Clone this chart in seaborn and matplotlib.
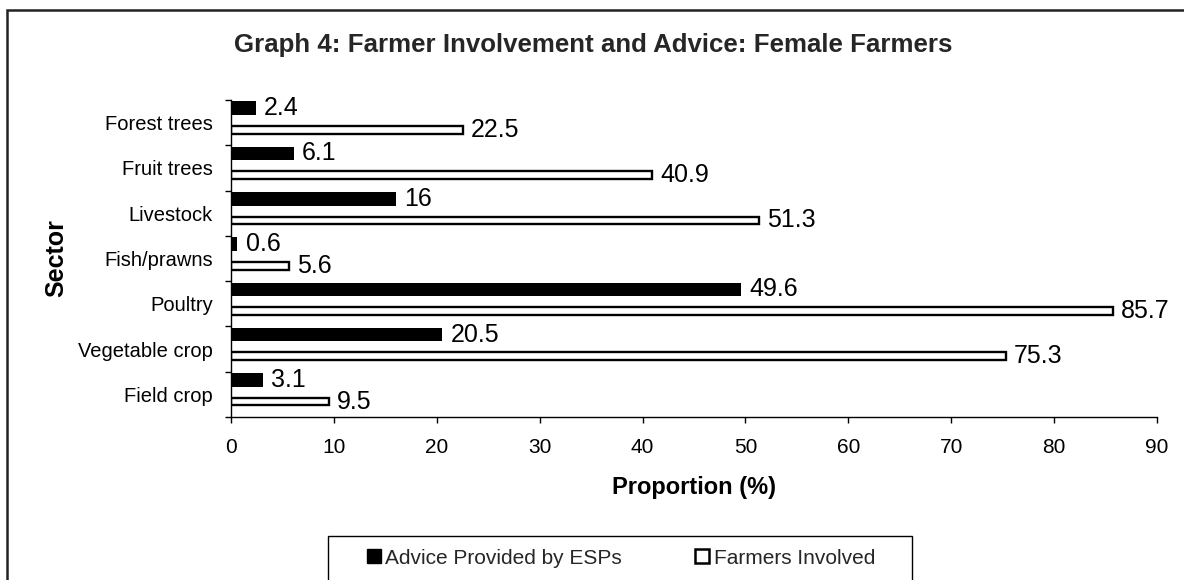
import matplotlib
matplotlib.use("Agg")
import matplotlib.pyplot as plt
import seaborn as sns
import pandas as pd
import numpy as np
from matplotlib.lines import Line2D
from matplotlib.patches import Rectangle

sectors = ["Forest trees", "Fruit trees", "Livestock", "Fish/prawns",
           "Poultry", "Vegetable crop", "Field crop"]
advice = [2.4, 6.1, 16, 0.6, 49.6, 20.5, 3.1]
involved = [22.5, 40.9, 51.3, 5.6, 85.7, 75.3, 9.5]
series_names = ["Advice Provided by ESPs", "Farmers Involved"]
x_ticks = [0, 10, 20, 30, 40, 50, 60, 70, 80, 90]

df = pd.DataFrame({
    "Sector": sectors * 2,
    "Series": [series_names[0]] * len(sectors) + [series_names[1]] * len(sectors),
    "Value": advice + involved,
})

sns.set_theme(style="white")
plt.rcParams["font.family"] = ["Liberation Sans", "DejaVu Sans"]

W, H = 1184, 580
fig = plt.figure(figsize=(W / 100, H / 100), dpi=100)
ax = fig.add_axes([231 / W, 1 - 417 / H, (1157 - 231) / W, (417 - 100) / H])

sns.barplot(data=df, y="Sector", x="Value", hue="Series", order=sectors,
            hue_order=series_names, palette=["black", "white"], orient="h",
            edgecolor="black", linewidth=1.4, ax=ax, legend=False, width=0.8)

# restyle bar geometry (Excel-like: thick black bar above, thin outlined bar below)
geom = {0: (-0.32, 0.30, 0.0), 1: (0.16, 0.17, 1.7)}
for ci, cont in enumerate(ax.containers):
    off, h, lw = geom[ci]
    for bar in cont:
        c = int(round(bar.get_y() + bar.get_height() / 2))
        bar.set_y(c + off - h / 2)
        bar.set_height(h)
        bar.set_linewidth(lw)
    vals = advice if ci == 0 else involved
    ax.bar_label(cont, labels=[f"{v:g}" for v in vals], padding=6,
                 fontsize=18, color="black")

ax.set_xlim(0, 90)
ax.set_ylim(6.5, -0.5)
ax.set_xticks(x_ticks)
ax.set_xticklabels([str(t) for t in x_ticks], fontsize=15)
ax.set_yticks(range(len(sectors)))
ax.set_yticklabels(sectors, fontsize=14.5)
ax.set_yticks(np.arange(-0.5, len(sectors), 1.0), minor=True)
ax.tick_params(axis="y", which="major", length=0, pad=13, colors="black")
ax.tick_params(axis="y", which="minor", length=4, width=1, direction="out",
               color="black", left=True)
ax.tick_params(axis="x", which="major", length=4, width=1, direction="out",
               pad=11, colors="black", bottom=True)

for s in ["top", "right"]:
    ax.spines[s].set_visible(False)
for s in ["left", "bottom"]:
    ax.spines[s].set_visible(True)
    ax.spines[s].set_color("black")
    ax.spines[s].set_linewidth(1.0)
ax.grid(False)

ax.set_xlabel("Proportion (%)", fontsize=17, fontweight="bold", color="black")
ax.xaxis.set_label_coords(0.5, (417 - 476) / 317)
ax.set_ylabel("Sector", fontsize=18, fontweight="bold", color="black")
ax.yaxis.set_label_coords((68 - 231) / 926, 0.5)

fig.text(0.501, 1 - 45 / H, "Graph 4: Farmer Involvement and Advice: Female Farmers",
         ha="center", va="center", fontsize=18.6, fontweight="bold")

handles = [
    Line2D([], [], marker="s", linestyle="none", markersize=10.5,
           markerfacecolor="black", markeredgecolor="black"),
    Line2D([], [], marker="s", linestyle="none", markersize=9.5,
           markerfacecolor="white", markeredgecolor="black", markeredgewidth=1.8),
]
leg = fig.legend(handles, series_names, loc="center",
                 bbox_to_anchor=(621 / W, 1 - 558 / H), bbox_transform=fig.transFigure,
                 ncol=2, fontsize=15, frameon=False,
                 handlelength=0.7, handletextpad=0.2, columnspacing=3.5,
                 borderpad=0.5, borderaxespad=0)

fig.add_artist(Rectangle((328 / W, -0.05), (912 - 328) / W, (1 - 536 / H) + 0.05,
                         transform=fig.transFigure, fill=False,
                         edgecolor="black", linewidth=1.0))

fig.add_artist(Rectangle((7 / W, -0.05), 1.2, (1 - 10 / H) + 0.05,
                         transform=fig.transFigure, fill=False,
                         edgecolor="#222222", linewidth=1.8))

fig.savefig("out.png", dpi=100, facecolor="white")
